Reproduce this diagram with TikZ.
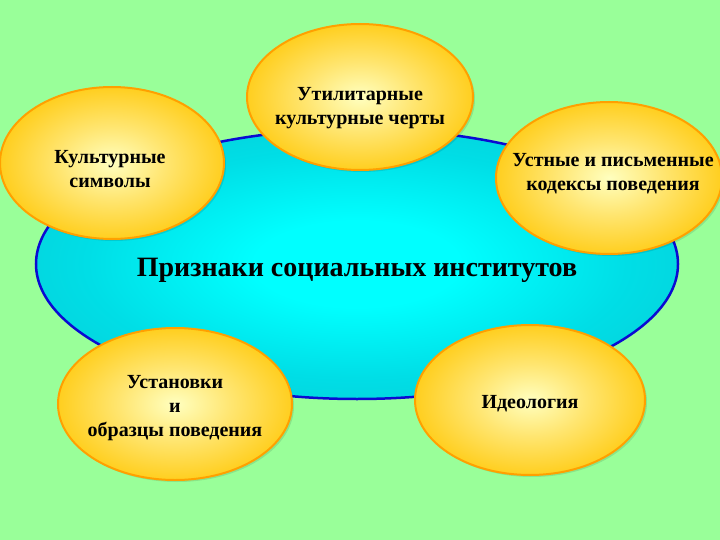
\documentclass[tikz,border=0pt]{standalone}
\usepackage{fontspec}
\setmainfont{Liberation Serif}
\usetikzlibrary{shapes.geometric}
\definecolor{bggreen}{RGB}{153,255,153}
\definecolor{bordblue}{RGB}{10,10,210}
\definecolor{ringorange}{RGB}{255,160,0}
\definecolor{cyanmid}{RGB}{0,222,230}
\definecolor{cyanedge}{RGB}{20,178,192}
\pgfdeclareradialshading{cyanball}{\pgfpoint{0bp}{0bp}}{%
  color(0bp)=(cyan);
  color(8bp)=(cyan);
  color(21bp)=(cyanmid);
  color(50bp)=(cyanedge)}
\pgfdeclareradialshading{orangeball}{\pgfpoint{0bp}{0bp}}{%
  color(0bp)=(yellow!25!white);
  color(12bp)=(yellow!45!white!80!orange);
  color(30bp)=(orange!45!yellow);
  color(45bp)=(orange!70!yellow);
  color(50bp)=(orange!80!yellow)}
\tikzset{
  bigell/.style={ellipse, inner sep=0pt, outer sep=0pt, draw=bordblue,
    line width=2.5pt, shading=cyanball},
  bubble/.style={ellipse, inner sep=0pt, outer sep=0pt, draw=ringorange,
    line width=2pt, shading=orangeball},
  bshadow/.style={ellipse, inner sep=0pt, outer sep=0pt, fill=black, opacity=0.10},
  lbl/.style={align=center, font=\bfseries\fontsize{20}{24}\selectfont, text=black},
  title/.style={font=\bfseries\fontsize{28}{32}\selectfont, text=black}
}
\begin{document}
\begin{tikzpicture}[x=1pt,y=-1pt]
\fill[bggreen] (0,0) rectangle (720,540);
\useasboundingbox (0,0) rectangle (720,540);
% central ellipse
\node[bigell, minimum width=642pt, minimum height=270pt] (main) at (357,264) {};
\node[title] (maintext) at (357,270) {Признаки социальных институтов};
% shadows
\node[bshadow, minimum width=226pt, minimum height=146pt] (s1) at (362,99) {};
\node[bshadow, minimum width=224pt, minimum height=152pt] (s2) at (114,165) {};
\node[bshadow, minimum width=226pt, minimum height=152pt] (s3) at (611,180) {};
\node[bshadow, minimum width=234pt, minimum height=152pt] (s4) at (177,406) {};
\node[bshadow, minimum width=230pt, minimum height=150pt] (s5) at (532,402) {};
% bubbles
\node[bubble, minimum width=226pt, minimum height=146pt] (util) at (360,97) {};
\node[bubble, minimum width=224pt, minimum height=152pt] (symb) at (112,163) {};
\node[bubble, minimum width=226pt, minimum height=152pt] (codes) at (609,178) {};
\node[bubble, minimum width=234pt, minimum height=152pt] (patt) at (175,404) {};
\node[bubble, minimum width=230pt, minimum height=150pt] (ideo) at (530,400) {};
% labels
\node[lbl] (utilt) at (360,108) {Утилитарные\\культурные черты};
\node[lbl] (symbt) at (110,169) {\fontsize{20}{22}\selectfont Культурные\\символы};
\node[lbl] (codest) at (613,174) {Устные и письменные\\кодексы поведения};
\node[lbl] (pattt) at (175,408) {Установки\\и\\образцы поведения};
\node[lbl] (ideot) at (530,404) {Идеология};
\end{tikzpicture}
\end{document}
